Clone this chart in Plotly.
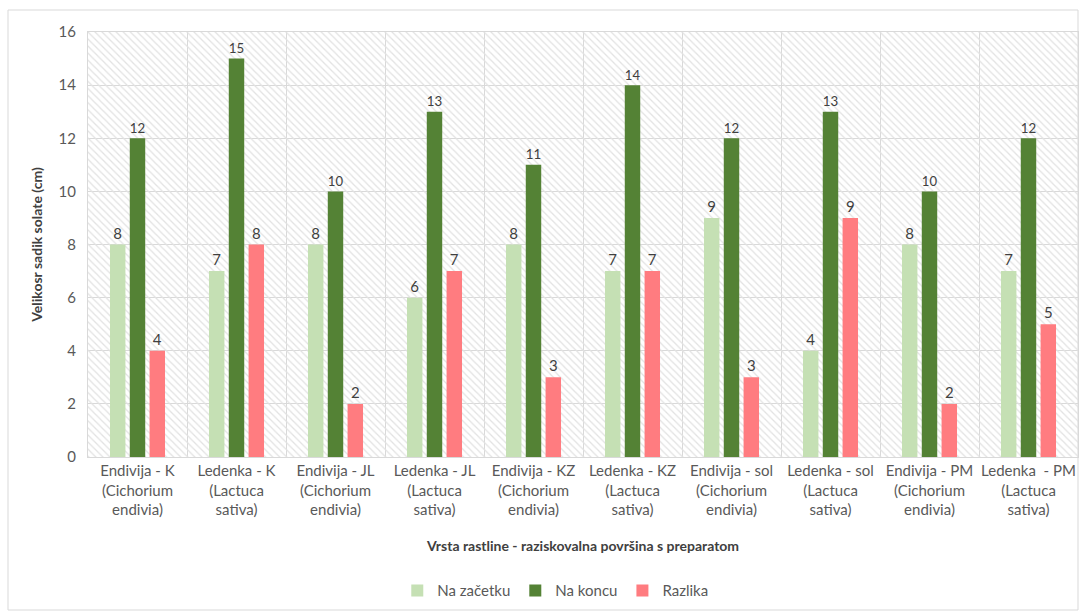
import plotly.graph_objects as go

categories = [
    "Endivija - K<br>(Cichorium<br>endivia)",
    "Ledenka - K<br>(Lactuca<br>sativa)",
    "Endivija - JL<br>(Cichorium<br>endivia)",
    "Ledenka - JL<br>(Lactuca<br>sativa)",
    "Endivija - KZ<br>(Cichorium<br>endivia)",
    "Ledenka - KZ<br>(Lactuca<br>sativa)",
    "Endivija - sol<br>(Cichorium<br>endivia)",
    "Ledenka - sol<br>(Lactuca<br>sativa)",
    "Endivija - PM<br>(Cichorium<br>endivia)",
    "Ledenka  - PM<br>(Lactuca<br>sativa)",
]
na_zacetku = [8, 7, 8, 6, 8, 7, 9, 4, 8, 7]
na_koncu = [12, 15, 10, 13, 11, 14, 12, 13, 10, 12]
razlika = [4, 8, 2, 7, 3, 7, 3, 9, 2, 5]
y_max = 16

FONT = "Lato"
TXT = "#595959"

fig = go.Figure()

# hatched background of the plot area
fig.add_trace(go.Bar(
    x=categories, y=[y_max] * len(categories), width=1,
    marker=dict(color="rgba(255,255,255,0)", line=dict(width=0),
                pattern=dict(shape="\\", fgcolor="#E2E2E2", bgcolor="rgba(255,255,255,0)",
                             size=5, solidity=0.25, fillmode="replace")),
    showlegend=False, hoverinfo="skip", xaxis="x", yaxis="y",
))

series = [("Na začetku", na_zacetku, "#C5E0B4"),
          ("Na koncu", na_koncu, "#548235"),
          ("Razlika", razlika, "#FF7C80")]
for name, vals, col in series:
    fig.add_trace(go.Bar(
        x=categories, y=vals, name=name, marker=dict(color=col, line=dict(width=0)),
        text=vals, textposition="outside", cliponaxis=False,
        textfont=dict(family=FONT, size=15, color="#404040"),
        xaxis="x2", yaxis="y",
    ))

fig.update_layout(
    width=1081, height=613,
    paper_bgcolor="white", plot_bgcolor="white",
    margin=dict(l=88, r=3, t=32, b=156),
    barmode="group", bargap=0.4, bargroupgap=0.22,
    font=dict(family=FONT, size=15, color=TXT),
    xaxis=dict(
        type="category", categoryarray=categories, categoryorder="array",
        tickson="boundaries", showgrid=True, gridcolor="#D9D9D9", gridwidth=1,
        ticks="", showline=True, linecolor="#D9D9D9", mirror=True, automargin=False,
        tickangle=0,
        tickfont=dict(family=FONT, size=15, color=TXT),
        title=dict(text="<b>Vrsta rastline - raziskovalna površina s preparatom</b>",
                   font=dict(family=FONT, size=14, color="#404040"), standoff=24),
        range=[-0.5, len(categories) - 0.5],
    ),
    xaxis2=dict(
        type="category", categoryarray=categories, categoryorder="array",
        overlaying="x", visible=False, range=[-0.5, len(categories) - 0.5],
    ),
    yaxis=dict(
        range=[0, y_max], dtick=2, showgrid=True, gridcolor="#D9D9D9", gridwidth=1,
        zeroline=False, showline=True, linecolor="#D9D9D9", mirror=True, ticks="",
        automargin=False,
        tickfont=dict(family=FONT, size=15, color=TXT), ticklabelstandoff=8,
        title=dict(text="<b>Velikosr sadik solate (cm)</b>",
                   font=dict(family=FONT, size=14, color="#404040"), standoff=12),
    ),
    legend=dict(orientation="h", x=0.472, xanchor="center", y=-0.276, yanchor="top",
                font=dict(family=FONT, size=15, color=TXT), traceorder="normal"),
    shapes=[dict(type="rect", xref="paper", yref="paper",
                 x0=-80 / 990, x1=1.0, y0=-(610 - 457) / 425, y1=(457 - 10) / 425,
                 line=dict(color="#D9D9D9", width=1), layer="below")],
)

fig.write_html("out.html")
